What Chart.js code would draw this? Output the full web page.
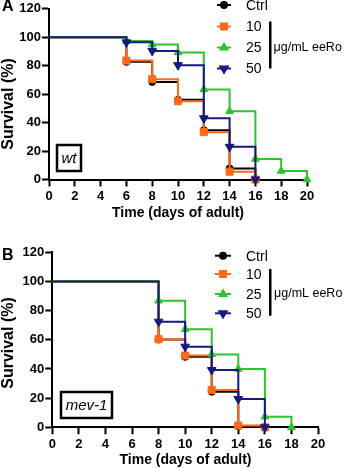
<!DOCTYPE html>
<html lang="en">
<head>
    <meta charset="UTF-8">
    <title>Survival - wt and mev-1</title>
    <script src="https://cdn.jsdelivr.net/npm/chart.js"></script>
    <style>
        body { margin: 0; background: #fff; }
        .panel { position: relative; width: 350px; height: 234px; }
    </style>
</head>
<body>
    <div class="panel"><canvas id="wtGraph" width="350" height="234"></canvas></div>
    <div class="panel"><canvas id="mevGraph" width="350" height="234"></canvas></div>

    <script>
        const seriesNames = ['Ctrl', '10', '25', '50'];
        const xTicks = [0, 2, 4, 6, 8, 10, 12, 14, 16, 18, 20];
        const yTicks = [0, 20, 40, 60, 80, 100, 120];

        // Panel A (wt) - days where survival drops, and survival (%)
        const daysCtrlA = [0, 6, 8, 10, 12, 14, 16];
        const ctrlA = [100, 82.7, 68.6, 56, 34.7, 7.8, 0];
        const days10A = [0, 6, 8, 10, 12, 14, 16];
        const ten10A = [100, 83.6, 70.5, 55, 33.3, 5.5, 0];
        const days25A = [0, 6, 8, 10, 12, 14, 16, 18, 20];
        const ten25A = [100, 97.3, 94.9, 89.3, 63.3, 48, 14.4, 6, 0];
        const days50A = [0, 6, 8, 10, 12, 14, 16];
        const ten50A = [100, 96.4, 90.4, 80.4, 43, 23, 0];

        // Panel B (mev-1)
        const daysCtrlB = [0, 8, 10, 12, 14, 16];
        const ctrlB = [100, 60.2, 48.3, 24.4, 0.8, 0];
        const days10B = [0, 8, 10, 12, 14, 16];
        const ten10B = [100, 60.4, 49.2, 25.6, 1.2, 0];
        const days25B = [0, 8, 10, 12, 14, 16, 18];
        const ten25B = [100, 86.8, 67.2, 50, 40, 7.3, 0];
        const days50B = [0, 8, 10, 12, 14, 16];
        const ten50B = [100, 72.4, 55.3, 39.3, 19.4, 0];

        const FONT = "'Liberation Sans', Arial, sans-serif";
        const colors = ['#000000', '#ff6a1a', '#2fc42f', '#151a80'];
        const styles = [
            { pointStyle: 'circle', radius: 3.5, rotation: 0 },
            { pointStyle: 'rect', radius: 5, rotation: 0 },
            { pointStyle: 'triangle', radius: 4.5, rotation: 0 },
            { pointStyle: 'triangle', radius: 5, rotation: 180 }
        ];

        function makeDataset(i, days, values) {
            return {
                label: seriesNames[i],
                data: days.map((d, k) => ({ x: d, y: values[k] })),
                borderColor: colors[i],
                backgroundColor: colors[i],
                borderWidth: 2,
                stepped: true,
                pointStyle: styles[i].pointStyle,
                pointRotation: styles[i].rotation,
                pointRadius: days.map((d, k) => k === 0 ? 0 : styles[i].radius),
                pointBorderWidth: 1,
                clip: false,
                order: 4 - i
            };
        }

        // Draws panel letter, axis titles, the strain box and the legend
        function extrasPlugin(o) {
            return {
                id: 'extras',
                afterDraw(chart) {
                    const ctx = chart.ctx;
                    ctx.save();
                    ctx.fillStyle = '#000';
                    ctx.textBaseline = 'alphabetic';
                    ctx.textAlign = 'left';
                    ctx.font = 'bold 16px ' + FONT;
                    ctx.fillText(o.letter, 2, o.letterY);

                    ctx.textAlign = 'center';
                    ctx.font = 'bold 14px ' + FONT;
                    ctx.fillText('Time (days of adult)', o.xTitleX, o.xTitleY);

                    ctx.save();
                    ctx.translate(13, o.yTitleY);
                    ctx.rotate(-Math.PI / 2);
                    ctx.font = 'bold 16px ' + FONT;
                    ctx.fillText('Survival (%)', 0, 0);
                    ctx.restore();

                    // strain label box
                    const b = o.box;
                    ctx.strokeStyle = '#000';
                    ctx.lineWidth = 2.5;
                    ctx.strokeRect(b.x, b.y, b.w, b.h);
                    ctx.font = 'italic 15px ' + FONT;
                    ctx.textBaseline = 'middle';
                    ctx.fillText(o.strain, b.x + b.w / 2, b.y + b.h / 2 + 1);

                    // legend
                    ctx.textAlign = 'left';
                    ctx.font = '14px ' + FONT;
                    seriesNames.forEach((name, i) => {
                        const y = o.legendY[i];
                        ctx.strokeStyle = colors[i];
                        ctx.fillStyle = colors[i];
                        ctx.lineWidth = 2;
                        ctx.beginPath();
                        ctx.moveTo(o.legendX1, y);
                        ctx.lineTo(o.legendX2, y);
                        ctx.stroke();
                        Chart.helpers.drawPoint(ctx, {
                            pointStyle: styles[i].pointStyle,
                            radius: styles[i].radius * 0.85,
                            rotation: styles[i].rotation,
                            borderWidth: 1
                        }, (o.legendX1 + o.legendX2) / 2, y);
                        ctx.fillStyle = '#000';
                        ctx.fillText(name, 246, y + 1);
                    });
                    ctx.fillRect(269, o.barTop, 2.5, o.barBottom - o.barTop);
                    ctx.font = '12.5px ' + FONT;
                    ctx.fillText('\u03bcg/mL eeRo', o.unitX, o.unitY);
                    ctx.restore();
                }
            };
        }

        function makeChart(id, datasets, area, extras) {
            const tickFont = { family: FONT, size: 13, weight: 'bold' };
            const grid = { drawOnChartArea: false, drawTicks: true, tickLength: 7, tickWidth: 2, tickColor: '#000' };
            return new Chart(document.getElementById(id), {
                type: 'line',
                data: { datasets: datasets },
                options: {
                    responsive: false,
                    animation: false,
                    layout: { padding: { left: 0, top: area.top, right: 350 - area.right, bottom: 0 } },
                    plugins: { legend: { display: false }, tooltip: { enabled: false } },
                    scales: {
                        x: {
                            type: 'linear',
                            min: xTicks[0],
                            max: xTicks[xTicks.length - 1],
                            afterBuildTicks: s => { s.ticks = xTicks.map(v => ({ value: v })); },
                            ticks: { color: '#000', font: tickFont, padding: 2, maxRotation: 0, autoSkip: false },
                            grid: grid,
                            border: { color: '#000', width: 2 },
                            afterFit: s => { s.height = 234 - area.bottom; }
                        },
                        y: {
                            min: yTicks[0],
                            max: yTicks[yTicks.length - 1],
                            afterBuildTicks: s => { s.ticks = yTicks.map(v => ({ value: v })); },
                            ticks: { color: '#000', font: tickFont, padding: 1 },
                            grid: grid,
                            border: { color: '#000', width: 2 },
                            afterFit: s => { s.width = area.left; }
                        }
                    }
                },
                plugins: [extrasPlugin(extras)]
            });
        }

        makeChart('wtGraph', [
            makeDataset(0, daysCtrlA, ctrlA),
            makeDataset(1, days10A, ten10A),
            makeDataset(2, days25A, ten25A),
            makeDataset(3, days50A, ten50A)
        ], { left: 49, right: 307, top: 8.5, bottom: 179.5 }, {
            letter: 'A', letterY: 11,
            xTitleX: 178, xTitleY: 216.5, yTitleY: 104,
            strain: 'wt', box: { x: 57, y: 145, w: 24, h: 26 },
            legendY: [5, 26.5, 47.5, 68.5], legendX1: 217, legendX2: 231,
            barTop: 21.5, barBottom: 68.5, unitX: 273.5, unitY: 48
        });

        makeChart('mevGraph', [
            makeDataset(0, daysCtrlB, ctrlB),
            makeDataset(1, days10B, ten10B),
            makeDataset(2, days25B, ten25B),
            makeDataset(3, days50B, ten50B)
        ], { left: 52.3, right: 318, top: 18.3, bottom: 193.3 }, {
            letter: 'B', letterY: 25.5,
            xTitleX: 185.5, xTitleY: 229.5, yTitleY: 109,
            strain: 'mev-1', box: { x: 61, y: 158, w: 51, h: 26 },
            legendY: [21.7, 40, 60, 79.3], legendX1: 215, legendX2: 231,
            barTop: 35, barBottom: 81.7, unitX: 274, unitY: 60
        });
    </script>
</body>
</html>
